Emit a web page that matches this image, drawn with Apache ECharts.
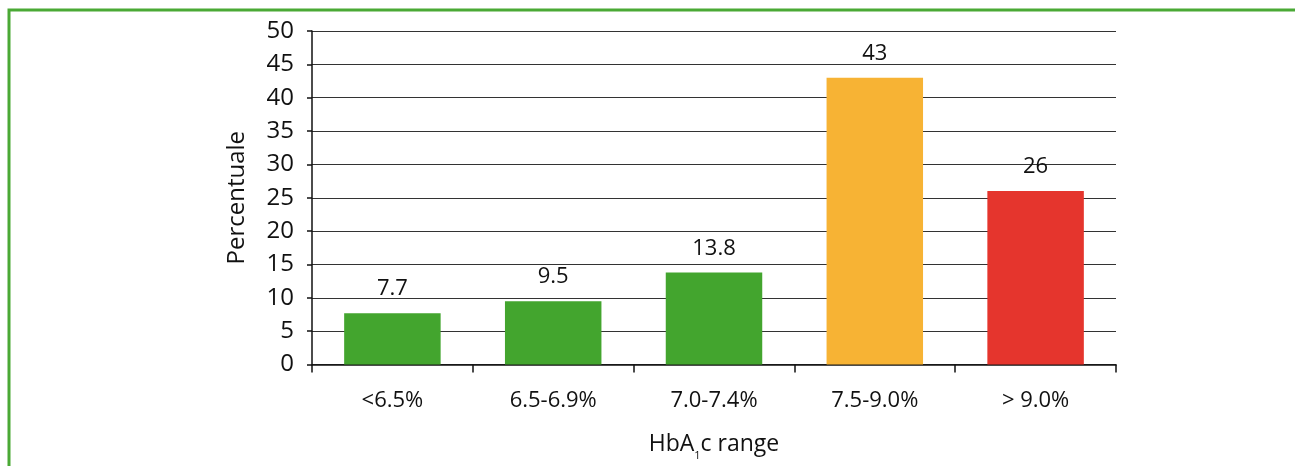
<!DOCTYPE html>
<html><head><meta charset="utf-8">
<script src="https://cdn.jsdelivr.net/npm/echarts@6/dist/echarts.min.js"></script>
<style>html,body{margin:0;padding:0;background:#fff}#c{width:1295px;height:466px}</style>
</head><body><div id="c"></div>
<script>
const categories = ['<6.5%', '6.5-6.9%', '7.0-7.4%', '7.5-9.0%', '> 9.0%'];
const values = [7.7, 9.5, 13.8, 43, 26];
const barColors = ['#43a52e', '#43a52e', '#43a52e', '#f7b334', '#e5352d'];
const yTicks = { min: 0, max: 50, interval: 5 };
const yName = 'Percentuale';

const FONT = '"Open Sans", "Noto Sans", sans-serif';
const chart = echarts.init(document.getElementById('c'), null, { renderer: 'canvas' });
chart.setOption({
  animation: false,
  backgroundColor: '#fff',
  textStyle: { fontFamily: FONT, color: '#111' },
  graphic: [
    { type: 'polyline', shape: { points: [[9, 466], [9, 10], [1295, 10]] }, style: { stroke: '#4aa935', lineWidth: 3, fill: null } }
  ],
  grid: { left: 312, top: 31, right: 179, bottom: 98 },
  xAxis: {
    type: 'category',
    data: categories,
    boundaryGap: true,
    axisLine: { show: true, lineStyle: { color: '#111', width: 1.5 } },
    axisTick: { show: true, length: 8, lineStyle: { color: '#111', width: 1.5 } },
    axisLabel: { fontSize: 22, color: '#111', margin: 25, fontFamily: FONT },
    name: '{a|HbA}{s|1}{a|c range}',
    nameLocation: 'middle',
    nameGap: 66,
    nameTextStyle: {
      fontFamily: FONT, color: '#111',
      rich: {
        a: { fontSize: 23, fontFamily: FONT, color: '#111', lineHeight: 28 },
        s: { fontSize: 11, fontFamily: FONT, color: '#111', lineHeight: 12, padding: [22, 0, 0, 0] }
      }
    }
  },
  yAxis: {
    type: 'value',
    min: yTicks.min, max: yTicks.max, interval: yTicks.interval,
    axisLine: { show: true, lineStyle: { color: '#111', width: 1.5 } },
    axisTick: { show: true, length: 5, lineStyle: { color: '#111', width: 1.5 } },
    axisLabel: { fontSize: 24, color: '#111', margin: 18, fontFamily: FONT },
    splitLine: { show: true, lineStyle: { color: '#333', width: 1.2 } },
    name: yName,
    nameLocation: 'middle',
    nameGap: 63,
    nameRotate: 90,
    nameTextStyle: { fontSize: 24, color: '#111', fontFamily: FONT }
  },
  series: [{
    type: 'bar',
    data: values.map((v, i) => ({ value: v, itemStyle: { color: barColors[i] } })),
    barWidth: '60%',
    label: { show: true, position: 'top', distance: 13, fontSize: 22, color: '#111', fontFamily: FONT }
  }]
});
</script></body></html>
